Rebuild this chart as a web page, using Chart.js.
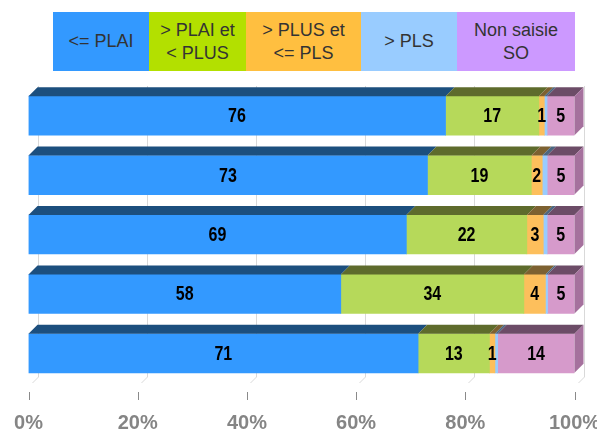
<!DOCTYPE html>
<html><head><meta charset="utf-8">
<script src="https://cdn.jsdelivr.net/npm/chart.js@4/dist/chart.umd.min.js"></script>
<style>
html,body{margin:0;padding:0;background:#fff;}
#wrap{position:relative;width:597px;height:430px;overflow:hidden;}
#legend{position:absolute;left:53px;top:12px;height:59px;display:flex;font-family:'Liberation Sans',Arial,sans-serif;font-size:18px;color:#333;}
#legend div{display:flex;align-items:center;justify-content:center;text-align:center;line-height:23px;white-space:pre;}
canvas{position:absolute;left:0;top:0;}
</style></head><body>
<div id="wrap"><canvas id="c" width="597" height="430"></canvas><div id="legend"></div></div>
<script>
const categories = ['Ligne 1','Ligne 2','Ligne 3','Ligne 4','Ligne 5'];
const seriesNames = ['<= PLAI','> PLAI et\n< PLUS','> PLUS et\n<= PLS','> PLS','Non saisie\nSO'];
const plai = [76,73,69,58,71];
const plaiPlus = [17,19,22,34,13];
const plusPls = [1,2,3,4,1];
const overPls = [0.5,0.9,0.7,0.4,0.5];
const nonSaisie = [5,5,5,5,14];
const tickValues = [0,20,40,60,80,100];

const series = [plai, plaiPlus, plusPls, overPls, nonSaisie];
const frontColors = ['#3399ff','#b6d95a','#fdbf5c','#99ccff','#d69acb'];
const topColors = ['#1c4f7e','#5e6b2c','#7d6131','#4d6680','#6c4c67'];
const sideColor = '#a5719d';
const legendColors = ['#3399ff','#b3e000','#ffbf40','#99ccff','#cc99ff'];
const legendWidths = [96,97,115,96,118];
const D = 9;

const totals = categories.map((_,i)=>series.reduce((s,a)=>s+a[i],0));
const datasets = series.map((arr,k)=>({
  label: seriesNames[k],
  data: arr.map((v,i)=>v/totals[i]*100),
  raw: arr,
  backgroundColor: frontColors[k],
  borderWidth: 0,
  barThickness: 39
}));

const leg = document.getElementById('legend');
seriesNames.forEach((n,k)=>{
  const el = document.createElement('div');
  el.textContent = n;
  el.style.background = legendColors[k];
  el.style.width = legendWidths[k]+'px';
  leg.appendChild(el);
});

const threeD = {
  id:'threeD',
  beforeDatasetsDraw(chart){
    const {ctx, chartArea:a, scales:{x}} = chart;
    ctx.save();
    const ff = a.bottom+3, fb = ff - D;
    ctx.lineWidth = 1;
    tickValues.forEach(v=>{
      const px = Math.round(x.getPixelForValue(v))+0.5;
      ctx.strokeStyle = '#d9d9d9';
      ctx.beginPath(); ctx.moveTo(px+D, a.top); ctx.lineTo(px+D, fb); ctx.lineTo(px+3, ff-3); ctx.stroke();
      ctx.strokeStyle = '#8a8a8a';
      ctx.beginPath(); ctx.moveTo(px, ff+6); ctx.lineTo(px, ff+14); ctx.stroke();
    });
    ctx.restore();
  },
  afterDatasetsDraw(chart){
    const ctx = chart.ctx;
    const n = chart.data.datasets.length;
    ctx.save();
    chart.data.datasets.forEach((ds,k)=>{
      const meta = chart.getDatasetMeta(k);
      meta.data.forEach((bar,i)=>{
        const p = bar.getProps(['x','y','base','height'], true);
        const top = p.y - p.height/2, bot = p.y + p.height/2;
        const x0 = Math.min(p.base,p.x), x1 = Math.max(p.base,p.x);
        if (x1-x0 <= 0) return;
        ctx.fillStyle = topColors[k];
        ctx.beginPath(); ctx.moveTo(x0, top); ctx.lineTo(x0+D, top-D); ctx.lineTo(x1+D, top-D); ctx.lineTo(x1, top); ctx.closePath(); ctx.fill();
        if (k === n-1) {
          ctx.fillStyle = sideColor;
          ctx.beginPath(); ctx.moveTo(x1, top); ctx.lineTo(x1+D, top-D); ctx.lineTo(x1+D, bot-D); ctx.lineTo(x1, bot); ctx.closePath(); ctx.fill();
        }
      });
    });
    ctx.fillStyle = '#000';
    ctx.font = "bold 20px 'Liberation Sans',Arial,sans-serif";
    ctx.textAlign = 'center';
    ctx.textBaseline = 'middle';
    chart.data.datasets.forEach((ds,k)=>{
      const meta = chart.getDatasetMeta(k);
      meta.data.forEach((bar,i)=>{
        const v = ds.raw[i];
        if (v < 1) return;
        const p = bar.getProps(['x','y','base'], true);
        ctx.save();
        ctx.translate((p.x+p.base)/2, p.y+1);
        ctx.scale(0.8, 1);
        ctx.fillText(String(Math.round(v)), 0, 0);
        ctx.restore();
      });
    });
    ctx.restore();
  }
};

new Chart(document.getElementById('c'), {
  type: 'bar',
  data: { labels: categories, datasets },
  options: {
    indexAxis: 'y',
    responsive: false,
    animation: false,
    layout: { padding: { top: 86, left: 28.5, right: 22.5, bottom: 0 } },
    plugins: { legend: { display: false }, tooltip: { enabled: false } },
    scales: {
      x: {
        stacked: true, min: 0, max: 100,
        afterBuildTicks: (s)=>{ s.ticks = tickValues.map(v=>({value:v})); },
        afterFit: (s)=>{ s.height = 47; s.paddingLeft = 0; s.paddingRight = 0; },
        grid: { display: false, drawTicks: false },
        border: { display: false },
        ticks: { padding: 28, color: '#858585', font: { family: "'Liberation Sans',Arial,sans-serif", size: 20, weight: 'bold' }, callback: (v)=>v+'%' }
      },
      y: { stacked: true, display: false }
    }
  },
  plugins: [threeD]
});
</script>
</body></html>
